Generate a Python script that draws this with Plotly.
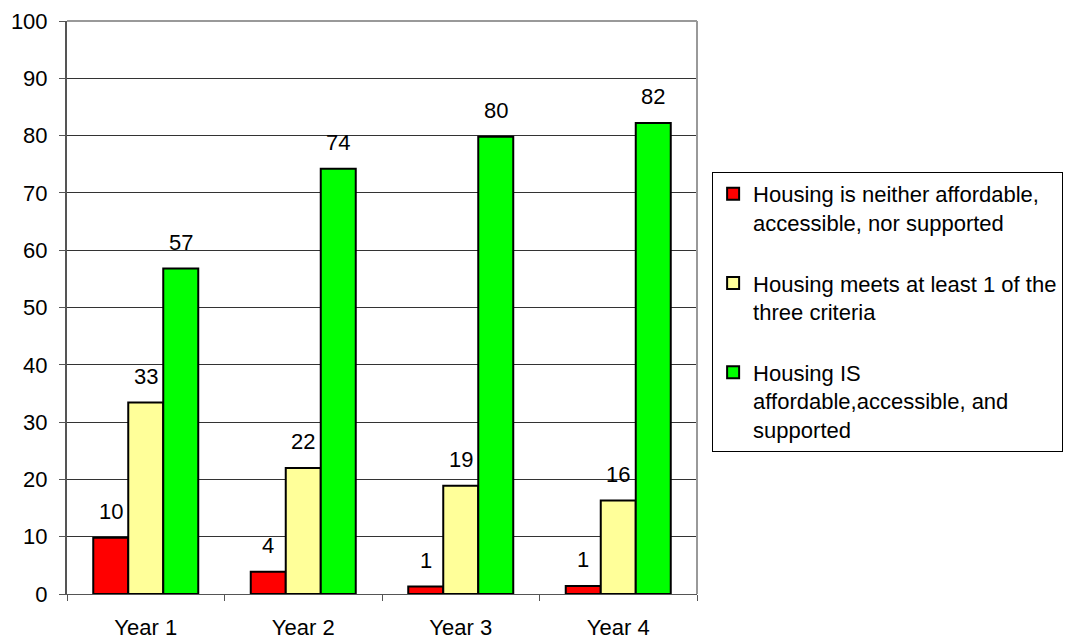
import plotly.graph_objects as go

categories = ["Year 1", "Year 2", "Year 3", "Year 4"]
series_names = [
    "Housing is neither affordable,<br>accessible, nor supported",
    "Housing meets at least 1 of the<br>three criteria",
    "Housing IS<br>affordable,accessible, and<br>supported",
]
neither = [9.8, 3.9, 1.3, 1.4]
at_least_one = [33.4, 22.0, 18.9, 16.3]
all_three = [56.8, 74.2, 79.8, 82.2]
colors = ["#FF0000", "#FFFF99", "#00FF00"]

FONT = "Liberation Sans, Arial, sans-serif"
FS = 22

fig = go.Figure()
annotations = []
series = [neither, at_least_one, all_three]
for i, (name, vals, col) in enumerate(zip(series_names, series, colors)):
    fig.add_trace(go.Bar(
        x=categories, y=vals, name=name,
        marker=dict(color=col, line=dict(color="black", width=2)),
        legendgroup=f"g{i}",
    ))
    for c, v in zip(categories, vals):
        annotations.append(dict(
            x=c, y=v, xref="x", yref="y", text=f"{round(v):d}",
            showarrow=False, xanchor="center", yanchor="bottom",
            xshift=(i - 1) * 35, yshift=12,
            font=dict(family=FONT, size=FS, color="black"),
        ))

fig.update_layout(
    width=1080, height=633,
    margin=dict(l=59, r=391, t=13, b=47, autoexpand=False),
    paper_bgcolor="white", plot_bgcolor="white",
    barmode="group", bargap=1/3, bargroupgap=0,
    font=dict(family=FONT, size=FS, color="black"),
    legend=dict(
        x=1.024, xanchor="left", y=0.7365, yanchor="top",
        bordercolor="black", borderwidth=1, bgcolor="white",
        font=dict(family=FONT, size=FS, color="black"),
        tracegroupgap=29, itemsizing="constant", valign="top",
        itemwidth=30,
    ),
    xaxis=dict(
        showgrid=False, showline=True, linecolor="#555555", linewidth=1,
        ticks="outside", tickson="boundaries", ticklen=6, tickcolor="#555555",
        ticklabelstandoff=14, automargin=False,
        tickfont=dict(family=FONT, size=FS, color="black"),
    ),
    yaxis=dict(
        range=[0, 100], dtick=10, showgrid=True, gridcolor="#333333", gridwidth=1,
        showline=True, linecolor="#555555", linewidth=2,
        ticks="outside", ticklen=6, tickcolor="#555555",
        ticklabelstandoff=7, zeroline=False, automargin=False,
        tickfont=dict(family=FONT, size=FS, color="black"),
    ),
    annotations=annotations,
    shapes=[
        dict(type="line", xref="paper", yref="paper", x0=0, x1=1, y0=1, y1=1,
             line=dict(color="#999999", width=2)),
        dict(type="line", xref="paper", yref="paper", x0=1, x1=1, y0=0, y1=1,
             line=dict(color="#999999", width=2)),
    ],
)

fig.write_html("out.html")
